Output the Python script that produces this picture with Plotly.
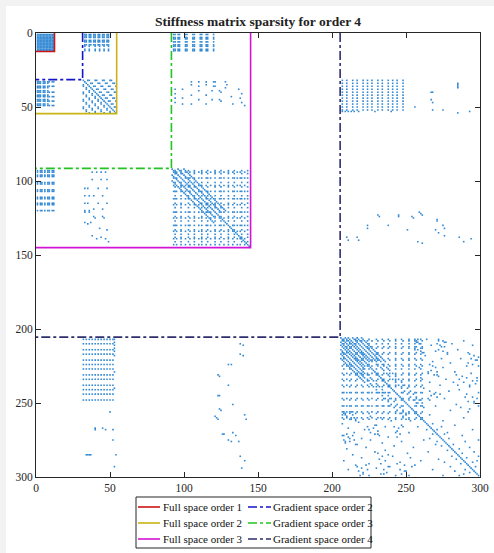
import plotly.graph_objects as go

# ---------------- block boundaries (legend boxes) ----------------
full_labels = ["Full space order 1", "Full space order 2", "Full space order 3"]
full_sizes = [12.5, 54.5, 145.0]
full_colors = ["#CC1414", "#C8B414", "#D414D4"]
grad_labels = ["Gradient space order 2", "Gradient space order 3", "Gradient space order 4"]
grad_sizes = [31.5, 91.5, 205.5]
grad_colors = ["#1414C8", "#22C322", "#2E2E6E"]

# ---------------- sparsity pattern (upper triangle) ----------------
A_dofs = list(range(1, 13))                       # order-1 block, dense
AC_rows_top = [1, 2, 3, 5, 6, 8]
AC_cols_top = [33, 34, 36, 37, 39, 40, 42, 43, 45, 46, 48, 49]
AC_rows_bot = [9, 11, 12]
AC_cols_bot = [33, 36, 40, 43, 46, 49]
AE_rows = [1, 3, 4, 6, 8, 9, 11, 12]
AE_cols = [93, 94, 96, 97, 101, 102, 106, 107, 111, 112, 115, 116, 120]

C_range = [32, 54]
CC_band_rows = [32, 34, 36, 38, 40, 42, 44, 46, 48, 50, 52]
CC_offsets = [3, 4, 8, 9, 13, 14, 18, 19]

CE_c = [38, 41, 44, 47, 38, 44, 48, 33, 35, 42, 48, 33, 36, 39, 45, 33, 35, 42, 48,
        39, 45, 33, 36, 33, 36, 39, 45, 40, 46, 33, 35, 37, 43, 48, 38, 41, 44, 47, 49]
CE_e = [94, 94, 94, 94, 99, 99, 99, 105, 105, 105, 105, 110, 110, 110, 110, 115, 115, 115, 115,
        119, 119, 120, 120, 121, 121, 124, 124, 125, 125, 128, 129, 128, 132, 133, 137, 139, 138, 139, 141]

CG_rows = [32, 34, 36, 38, 40, 42, 44, 46, 48, 50, 52]
CG_cols = [207, 210, 214, 217, 221, 224, 227, 231, 234, 238, 241, 244, 248]
CG_extra_c = [53, 53, 53, 53, 53, 53, 53, 53, 50, 40, 47, 52, 52, 35, 37, 54, 53, 40, 45, 34, 36, 50]
CG_extra_g = [207, 209, 211, 213, 215, 218, 229, 240, 256, 268, 268, 268, 275, 285, 285, 285, 293, 267, 267, 285, 285, 256]

E_range = [92, 144]
EE_band_offsets = [4, 8]
EE_band_last_row = 120
EE_grid_rows = [93, 95, 98, 101, 104, 107, 110, 112, 115, 118, 121, 124, 127, 130, 133, 136, 138, 141]
EE_grid_cols = [94, 98, 103, 107, 112, 116, 121, 125, 130, 134, 139, 143]

EG_e = [138, 140, 138, 140, 130, 132, 123, 124, 130, 123, 124, 133, 124, 125, 141, 142, 123,
        127, 133, 135, 130, 132, 137, 138, 141, 139, 121, 122, 126]
EG_g = [210, 211, 217, 218, 224, 224, 231, 232, 238, 245, 245, 251, 254, 255, 258, 261, 261,
        271, 270, 272, 275, 276, 276, 286, 289, 294, 259, 260, 271]

G_range = [206, 299]
GG_band1_offsets = [3, 5, 8, 11, 14]
GG_band1_rows = [206, 222]
GG_band2_offsets = [7, 11]
GG_band2_rows = [224, 250]
GG_grid_rows = [207, 210, 213, 217, 220, 224, 227, 231, 235, 239, 243, 248, 252, 257, 261]
GG_grid_cols = [208, 212, 216, 221, 225, 230, 234, 238, 243, 247, 252, 256, 260]
GG_extra_r = [207, 207, 209, 210, 212, 212, 214, 215, 216,
              207, 208, 209, 211, 212, 214, 215, 216, 210,
              217, 218, 220, 221, 223, 224, 225, 219,
              224, 225, 226, 228, 229, 230, 231, 232,
              231, 232, 233, 234, 235, 236, 237, 238, 239, 233,
              242, 243, 244, 245, 246, 247,
              244, 246, 247, 249, 250, 252,
              255, 258, 260, 262, 265, 268, 270, 272, 275, 256,
              264, 268, 271, 274, 278, 281, 284, 287, 290, 293, 266, 276, 283, 286, 280, 289]
GG_extra_c = [256, 258, 257, 259, 256, 261, 258, 260, 262,
              272, 275, 277, 273, 276, 272, 275, 278, 271,
              293, 296, 294, 298, 292, 295, 299, 299,
              266, 268, 270, 267, 271, 265, 269, 272,
              284, 288, 291, 286, 295, 289, 297, 285, 293, 298,
              266, 270, 273, 267, 271, 265,
              291, 295, 298, 292, 296, 299,
              280, 266, 289, 275, 283, 295, 278, 288, 299, 292,
              268, 271, 276, 279, 282, 286, 288, 291, 295, 297, 274, 290, 296, 299, 293, 298]
# scattered couplings in the lower-left part of the order-4 block (row > col)
GG_low_r = [256, 256, 257, 258, 259, 260, 261, 262, 263, 264, 265, 266, 267, 268, 269, 270,
            271, 272, 273, 274, 274, 275, 276, 276, 277, 278, 279, 280, 281, 282, 283, 284,
            285, 286, 287, 288, 289, 290, 291, 292, 293, 294, 295, 296, 297, 298, 299,
            258, 262, 266, 270, 280, 287, 293]
GG_low_c = [208, 214, 221, 209, 226, 233, 213, 240, 218, 207, 229, 236, 211, 222, 244, 215,
            231, 208, 238, 212, 220, 226, 209, 247, 234, 217, 242, 223, 210, 236, 229, 251,
            214, 241, 220, 232, 208, 246, 225, 216, 238, 230, 211, 249, 221, 235, 243,
            250, 253, 248, 252, 255, 253, 254]

# ---------------- assemble symmetric pattern ----------------
pts = set()


def add(r, c):
    pts.add((r, c))
    pts.add((c, r))


for r in A_dofs:
    for c in A_dofs:
        add(r, c)
for r in AC_rows_top:
    for c in AC_cols_top:
        add(r, c)
for r in AC_rows_bot:
    for c in AC_cols_bot:
        add(r, c)
for r in AE_rows:
    for c in AE_cols:
        add(r, c)
for r in range(C_range[0], C_range[1] + 1):
    add(r, r)
for r in CC_band_rows:
    for k in CC_offsets:
        if r + k <= C_range[1]:
            add(r, r + k)
for c, e in zip(CE_c, CE_e):
    add(c, e)
for r in CG_rows:
    for c in CG_cols:
        add(r, c)
for c, g in zip(CG_extra_c, CG_extra_g):
    add(c, g)
for r in range(E_range[0], E_range[1] + 1):
    add(r, r)
    if r <= EE_band_last_row:
        for k in EE_band_offsets:
            add(r, r + k)
for r in EE_grid_rows:
    for c in EE_grid_cols:
        if c != r:
            add(r, c)
for e, g in zip(EG_e, EG_g):
    add(e, g)
for r in range(G_range[0], G_range[1] + 1):
    add(r, r)
for r in range(GG_band1_rows[0], GG_band1_rows[1] + 1):
    for k in GG_band1_offsets:
        add(r, r + k)
for r in range(GG_band2_rows[0], GG_band2_rows[1] + 1, 2):
    for k in GG_band2_offsets:
        add(r, r + k)
for r in GG_grid_rows:
    for c in GG_grid_cols:
        if c != r:
            add(r, c)
for r, c in zip(GG_extra_r, GG_extra_c):
    add(r, c)
for r, c in zip(GG_low_r, GG_low_c):
    add(r, c)

pts = sorted(pts)
rows = [p[0] for p in pts]
cols = [p[1] for p in pts]

fig = go.Figure()
fig.add_trace(go.Scatter(
    x=cols, y=rows, mode="markers", showlegend=False, hoverinfo="skip",
    marker=dict(size=1.6, symbol="square", color="#3289d4", line=dict(width=0)),
))

for lab, s, col in zip(full_labels, full_sizes, full_colors):
    fig.add_trace(go.Scatter(x=[s, s, 0], y=[0, s, s], mode="lines", name=lab,
                             showlegend=False, hoverinfo="skip",
                             line=dict(color=col, width=1.6)))
for lab, s, col in zip(grad_labels, grad_sizes, grad_colors):
    fig.add_trace(go.Scatter(x=[s, s, 0], y=[0, s, s], mode="lines", name=lab,
                             showlegend=False, hoverinfo="skip",
                             line=dict(color=col, width=1.6, dash="dashdot")))

serif = "Liberation Serif"
axis_common = dict(
    range=[0, 300], tickvals=[0, 50, 100, 150, 200, 250, 300],
    ticks="inside", ticklen=5, tickwidth=1, tickcolor="#262626",
    showline=True, linecolor="#262626", linewidth=1, mirror="ticks",
    showgrid=False, zeroline=False,
    tickfont=dict(family=serif, size=11.5, color="#262626"),
)


# paper coords: plot area spans pixels x 36..480, y 33..477
def px_x(p):
    return (p - 36) / 444.0


def px_y(p):
    return (477 - p) / 444.0


# ---------------- legend (drawn as a boxed two-column key) ----------------
shapes = [
    dict(type="rect", xref="paper", yref="paper", layer="below",
         x0=px_x(0), x1=px_x(6), y0=px_y(553), y1=px_y(0),
         line=dict(width=0), fillcolor="#f2f2f2"),
    dict(type="rect", xref="paper", yref="paper", layer="below",
         x0=px_x(0), x1=px_x(494), y0=px_y(6), y1=px_y(0),
         line=dict(width=0), fillcolor="#f2f2f2"),
    dict(type="rect", xref="paper", yref="paper",
         x0=px_x(136), x1=px_x(371), y0=px_y(548), y1=px_y(497),
         line=dict(color="#262626", width=1), fillcolor="white"),
]
annotations = []
row_y = [507, 523, 539]
for i, (lab, col) in enumerate(zip(full_labels, full_colors)):
    shapes.append(dict(type="line", xref="paper", yref="paper",
                       x0=px_x(138), x1=px_x(160), y0=px_y(row_y[i]), y1=px_y(row_y[i]),
                       line=dict(color=col, width=1.6)))
    annotations.append(dict(text=lab, xref="paper", yref="paper", x=px_x(161), y=px_y(row_y[i]),
                            xanchor="left", yanchor="middle", showarrow=False,
                            font=dict(family=serif, size=11, color="#111")))
for i, (lab, col) in enumerate(zip(grad_labels, grad_colors)):
    shapes.append(dict(type="line", xref="paper", yref="paper",
                       x0=px_x(248), x1=px_x(271), y0=px_y(row_y[i]), y1=px_y(row_y[i]),
                       line=dict(color=col, width=1.6, dash="dashdot")))
    annotations.append(dict(text=lab, xref="paper", yref="paper", x=px_x(271), y=px_y(row_y[i]),
                            xanchor="left", yanchor="middle", showarrow=False,
                            font=dict(family=serif, size=11, color="#111")))

fig.update_layout(
    width=494, height=553,
    margin=dict(l=36, r=14, t=33, b=76, autoexpand=False),
    paper_bgcolor="white", plot_bgcolor="white",
    showlegend=False,
    title=dict(text="<b>Stiffness matrix sparsity for order 4</b>",
               x=0.5, xref="paper", xanchor="center", y=1 - 21 / 553, yanchor="middle",
               font=dict(family=serif, size=13.5, color="#222")),
    xaxis=dict(**axis_common),
    yaxis=dict(**axis_common, autorange=False),
    shapes=shapes, annotations=annotations,
)
fig.update_yaxes(range=[300, 0])

fig.write_html("out.html")
